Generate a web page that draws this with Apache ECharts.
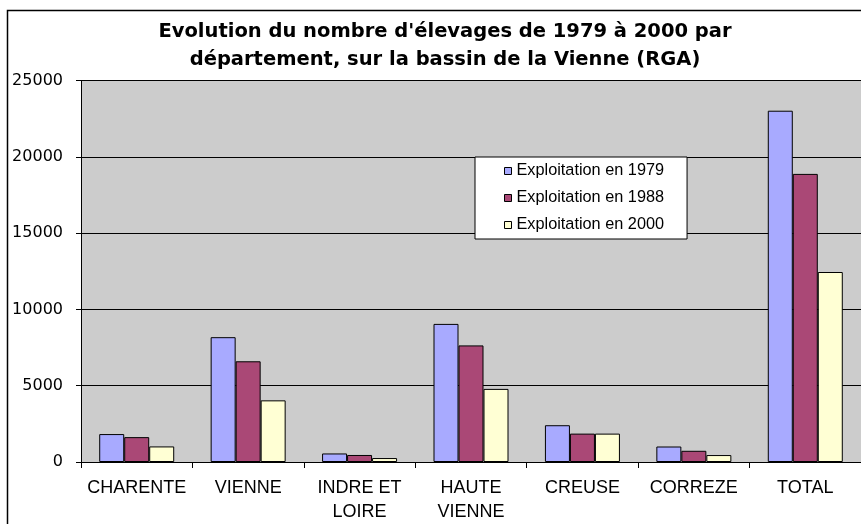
<!DOCTYPE html>
<html>
<head>
<meta charset="utf-8">
<script src="https://cdn.jsdelivr.net/npm/echarts@6/dist/echarts.min.js"></script>
<style>
  html, body { margin: 0; padding: 0; background: #fff; }
  #chart { width: 861px; height: 524px; }
</style>
</head>
<body>
<div id="chart"></div>
<script>
// data
const categories = ['CHARENTE', 'VIENNE', 'INDRE ET\nLOIRE', 'HAUTE\nVIENNE', 'CREUSE', 'CORREZE', 'TOTAL']
const expl1979 = [1830, 8180, 560, 9050, 2410, 1015, 23020]
const expl1988 = [1630, 6600, 460, 7640, 1860, 735, 18880]
const expl2000 = [1020, 4040, 260, 4790, 1860, 455, 12450]
const seriesNames = ['Exploitation en 1979', 'Exploitation en 1988', 'Exploitation en 2000']

const chart = echarts.init(document.getElementById('chart'))

const barStyle = (color) => ({
  color: color,
  borderColor: '#000',
  borderWidth: 1
})

chart.setOption({
  animation: false,
  textStyle: { fontFamily: 'Liberation Sans, Arial, sans-serif' },
  title: {
    text: "Evolution du nombre d'élevages de 1979 à 2000 par\ndépartement, sur la bassin de la Vienne (RGA)",
    left: 440,
    top: 13,
    textAlign: 'center',
    textStyle: { fontFamily: 'DejaVu Sans', fontSize: 19.5, fontWeight: 'bold', color: '#000', lineHeight: 28 }
  },
  graphic: [
    {
      type: 'rect',
      shape: { x: 7.5, y: 10.5, width: 900, height: 600 },
      style: { fill: 'none', stroke: '#000', lineWidth: 1.5 },
      silent: true
    }
  ],
  legend: {
    orient: 'vertical',
    left: 475,
    top: 157,
    data: seriesNames,
    icon: 'rect',
    itemWidth: 7,
    itemHeight: 7,
    itemGap: 11,
    padding: [6, 23, 6, 29],
    backgroundColor: '#fff',
    borderColor: '#000',
    borderWidth: 1,
    borderRadius: 0,
    itemStyle: { borderColor: '#000', borderWidth: 1 },
    textStyle: { fontSize: 16.3, color: '#000', lineHeight: 16 }
  },
  grid: {
    left: 81,
    top: 80.5,
    width: 794,
    height: 383.5,
    show: true,
    backgroundColor: '#cccccc',
    borderWidth: 0
  },
  xAxis: {
    type: 'category',
    data: categories,
    axisLine: { lineStyle: { color: '#000' } },
    axisTick: { show: true, length: 6, lineStyle: { color: '#000' } },
    axisLabel: { color: '#000', fontSize: 18, margin: 14, lineHeight: 24, interval: 0 }
  },
  yAxis: {
    type: 'value',
    min: 0,
    max: 25000,
    interval: 5000,
    axisLine: { show: true, lineStyle: { color: '#000' } },
    axisTick: { show: true, length: 5, lineStyle: { color: '#000' } },
    axisLabel: { color: '#000', fontFamily: 'DejaVu Sans', fontSize: 16, margin: 18, formatter: (v) => String(v) },
    splitLine: { lineStyle: { color: '#000', width: 1 } }
  },
  series: [
    { name: seriesNames[0], type: 'bar', data: expl1979, barWidth: 25, barGap: '0%', itemStyle: barStyle('#a8aaff') },
    { name: seriesNames[1], type: 'bar', data: expl1988, barWidth: 25, barGap: '0%', itemStyle: barStyle('#aa4876') },
    { name: seriesNames[2], type: 'bar', data: expl2000, barWidth: 25, barGap: '0%', itemStyle: barStyle('#ffffd4') }
  ]
})
</script>
</body>
</html>
